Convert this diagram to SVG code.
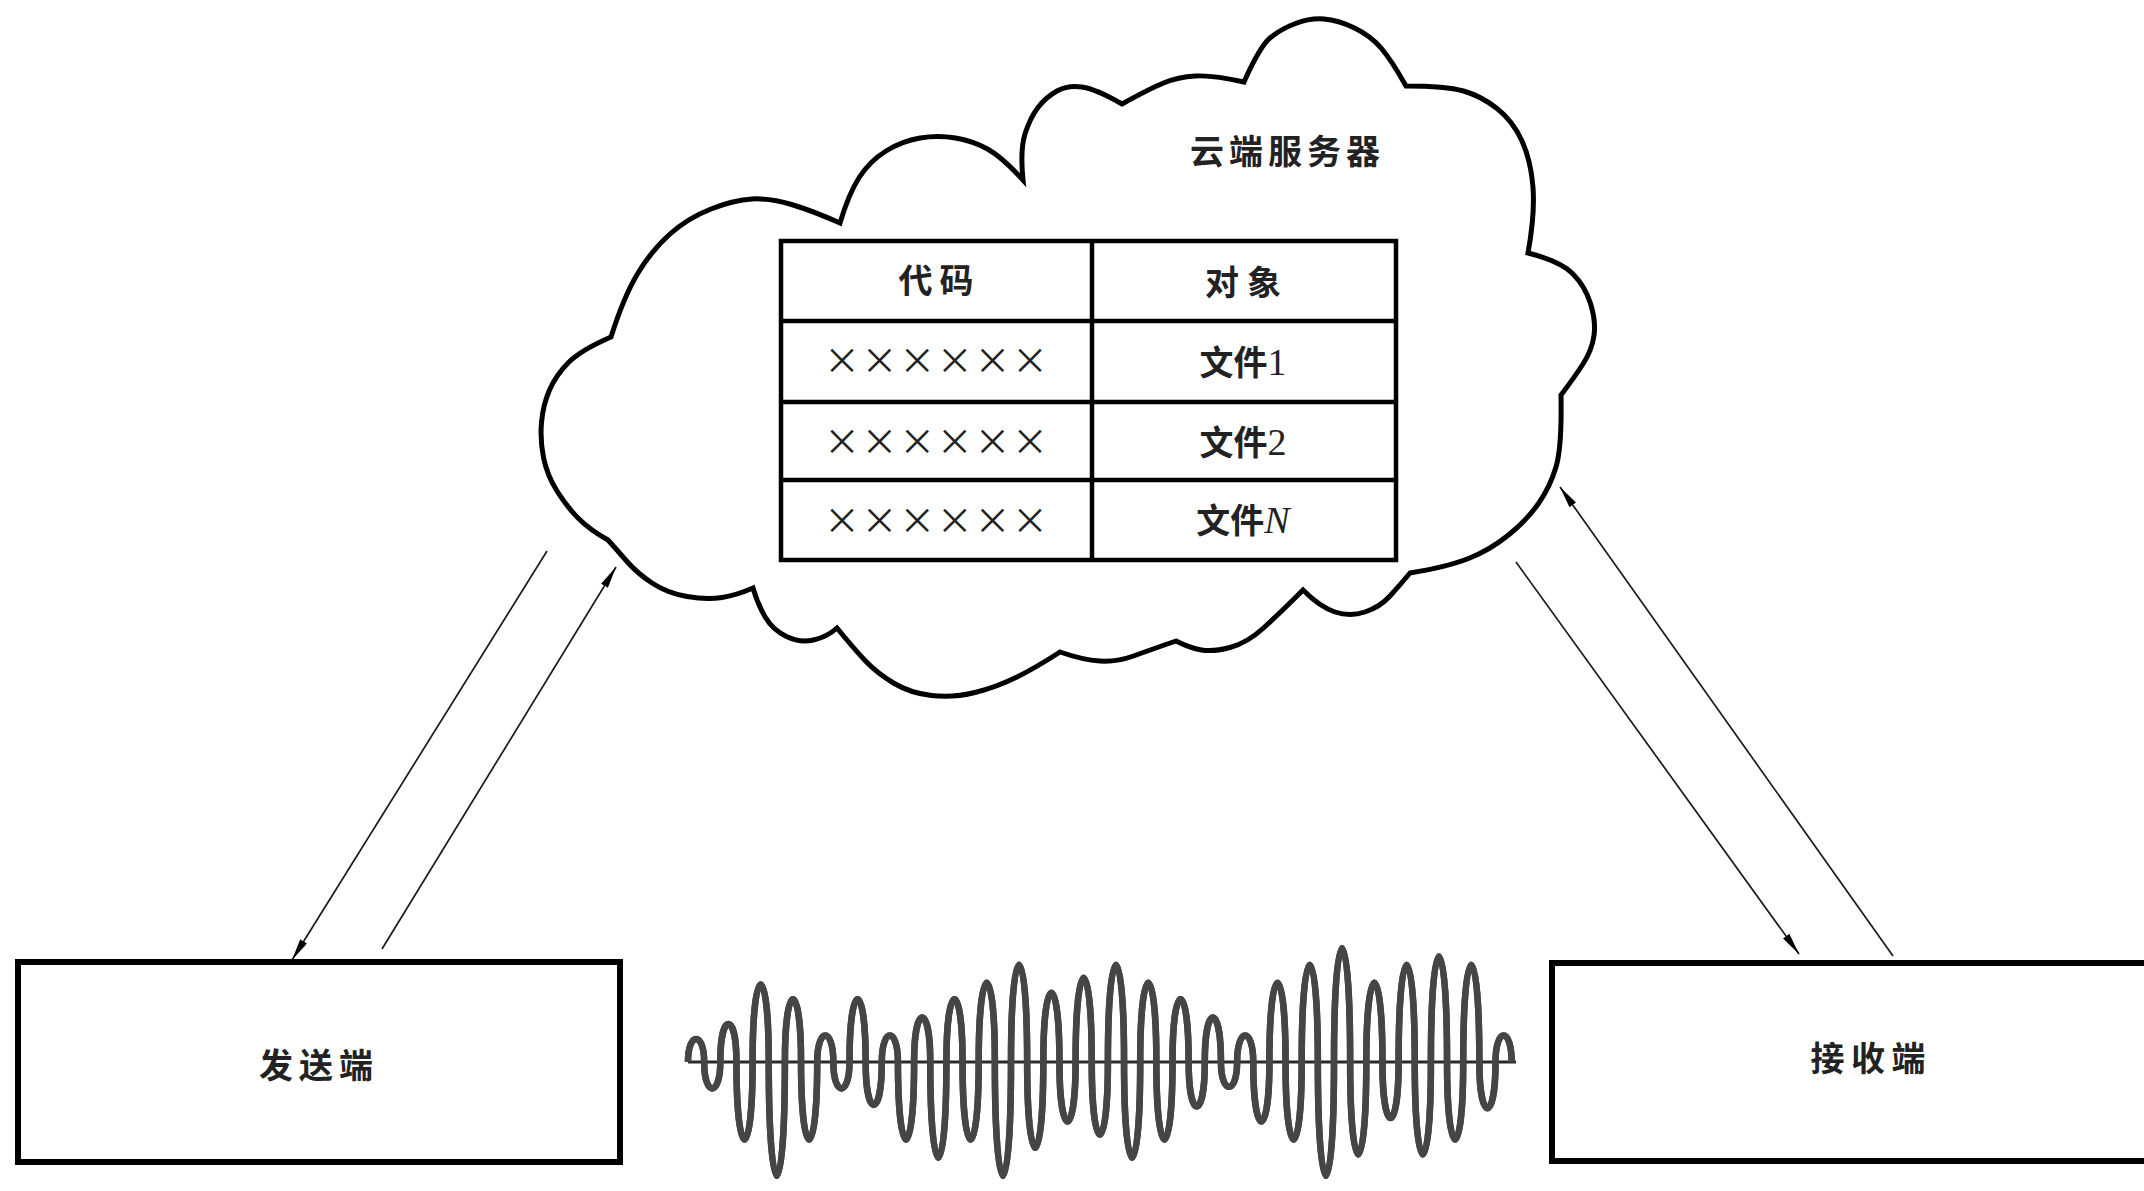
<svg xmlns="http://www.w3.org/2000/svg" width="2144" height="1191" viewBox="0 0 2144 1191">
<defs>
<style>
.cjk{font-family:"Noto Sans CJK SC","Noto Sans CJK TC",sans-serif;fill:#222;font-weight:600;}
.xx{font-family:"Noto Sans CJK SC","Noto Sans CJK TC",sans-serif;fill:#222;font-weight:400;}
.ser{font-family:"Liberation Serif",serif;font-weight:400;}
.box{fill:none;stroke:#000;stroke-width:6;}
.tbl{fill:none;stroke:#000;stroke-width:4.5;}
.conn{stroke:#1a1a1a;stroke-width:1.7;fill:none;marker-end:url(#arr);}
</style>
<marker id="arr" markerUnits="userSpaceOnUse" viewBox="0 0 22 8" markerWidth="22" markerHeight="8" refX="22" refY="4" orient="auto">
<path d="M0,0 L22,4 L0,8 Z" fill="#000"/>
</marker>
</defs>
<rect width="2144" height="1191" fill="#fff"/>

<g id="cloud-server">
<path fill="none" stroke="#000" stroke-width="5" stroke-linejoin="miter" d="M611,337 Q624,296 638,273 Q652,250 670,234 Q688,218 711,209 Q734,200 752,199 Q770,198 791.5,204.5 Q813,211 840,223 Q849,193 859.5,177 Q870,161 886,151 Q902,141 920,138 Q938,135 955.5,138 Q973,141 987.5,149 Q1002,157 1023,180 Q1020,150 1025,134 Q1030,118 1038,107.5 Q1046,97 1057,91 Q1068,85 1082,87 Q1096,89 1122,104 Q1149,89 1163.5,83 Q1178,77 1195.5,76 Q1213,75 1244,82 Q1260,46 1270.5,37.5 Q1281,29 1295.5,23.5 Q1310,18 1324,19 Q1338,20 1354.5,28 Q1371,36 1381.5,48.5 Q1392,61 1406,86 Q1446,86 1463.5,91 Q1481,96 1497,108.5 Q1513,121 1522,141 Q1531,161 1533,187.5 Q1535,214 1528,253 Q1560,261 1572.5,273.5 Q1585,286 1590.5,303.5 Q1596,321 1594,335.5 Q1592,350 1583,364 Q1574,378 1561,395 Q1562,447 1556,467 Q1550,487 1538.5,503.5 Q1527,520 1508.5,535 Q1490,550 1468.5,558.5 Q1447,567 1410,573 Q1400,585 1390,596 Q1380,607 1365,612 Q1350,617 1335,612 Q1320,607 1303,590 Q1280,613 1263.5,628 Q1247,643 1230,647.5 Q1213,652 1201.5,650 Q1190,648 1176,641 Q1150,650 1133.5,656 Q1117,662 1100,661 Q1083,660 1060,652 Q1037,667 1017,677 Q997,687 975,692.5 Q953,698 931.5,695.5 Q910,693 893.5,683 Q877,673 866,661.5 Q855,650 837,628 Q827,637 813.5,640 Q800,643 786.5,636.5 Q773,630 765.5,617.5 Q758,605 753,588 Q737,595 722,597.5 Q707,600 687,596.5 Q667,593 652,583 Q637,573 627,561.5 Q617,550 608,540 Q590,530 578.5,518.5 Q567,507 557,491 Q547,475 543.5,457.5 Q540,440 541.5,422.5 Q543,405 549.5,390 Q556,375 568.5,362.5 Q581,350 611,337 Z"/>
<text class="cjk" x="1285" y="164" font-size="34" text-anchor="middle" textLength="190" lengthAdjust="spacing">云端服务器</text>
<g id="table">
<rect class="tbl" x="781" y="241" width="615" height="319"/>
<line class="tbl" x1="1092" y1="241" x2="1092" y2="560"/>
<line class="tbl" x1="781" y1="321" x2="1396" y2="321"/>
<line class="tbl" x1="781" y1="402" x2="1396" y2="402"/>
<line class="tbl" x1="781" y1="480" x2="1396" y2="480"/>
<text class="cjk" x="936" y="293" font-size="34" text-anchor="middle" textLength="75" lengthAdjust="spacing">代码</text>
<text class="cjk" x="1243" y="295" font-size="34" text-anchor="middle" textLength="76" lengthAdjust="spacing">对象</text>
<text class="xx" x="936" y="374" font-size="36" text-anchor="middle" textLength="224" lengthAdjust="spacing">××××××</text>
<text class="xx" x="936" y="455" font-size="36" text-anchor="middle" textLength="224" lengthAdjust="spacing">××××××</text>
<text class="xx" x="936" y="534" font-size="36" text-anchor="middle" textLength="224" lengthAdjust="spacing">××××××</text>
<text class="cjk" x="1243" y="375" font-size="34" text-anchor="middle">文件<tspan class="ser" font-size="38">1</tspan></text>
<text class="cjk" x="1243" y="455" font-size="34" text-anchor="middle">文件<tspan class="ser" font-size="38">2</tspan></text>
<text class="cjk" x="1243" y="533" font-size="34" text-anchor="middle">文件<tspan class="ser" font-size="38" font-style="italic">N</tspan></text>
</g>
</g>

<g id="sender">
<rect class="box" x="18" y="962" width="602" height="200"/>
<text class="cjk" x="316" y="1078" font-size="34" text-anchor="middle" textLength="114" lengthAdjust="spacing">发送端</text>
</g>

<g id="receiver">
<rect class="box" x="1552" y="963" width="620" height="198"/>
<text class="cjk" x="1868" y="1071" font-size="34" text-anchor="middle" textLength="115" lengthAdjust="spacing">接收端</text>
</g>

<g id="waveform">
<line x1="688" y1="1062" x2="1516" y2="1062" stroke="#2a2a2a" stroke-width="3"/>
<path id="wv" fill="none" stroke="#454545" stroke-width="6.5" d="M688,1062 C688,1031.2 704.15,1031.2 704.15,1062 C704.15,1097.2 720.3,1097.2 720.3,1062 C720.3,1011.4 736.45,1011.4 736.45,1062 C736.45,1165.4 752.6,1165.4 752.6,1062 C752.6,958.6 768.75,958.6 768.75,1062 C768.75,1213.8 784.9,1213.8 784.9,1062 C784.9,978.4 801.05,978.4 801.05,1062 C801.05,1165.4 817.2,1165.4 817.2,1062 C817.2,1026.8 833.35,1026.8 833.35,1062 C833.35,1097.2 849.5,1097.2 849.5,1062 C849.5,978.4 865.65,978.4 865.65,1062 C865.65,1119.2 881.8,1119.2 881.8,1062 C881.8,1026.8 897.95,1026.8 897.95,1062 C897.95,1165.4 914.1,1165.4 914.1,1062 C914.1,1002.6 930.25,1002.6 930.25,1062 C930.25,1189.6 946.4,1189.6 946.4,1062 C946.4,978.4 962.55,978.4 962.55,1062 C962.55,1165.4 978.7,1165.4 978.7,1062 C978.7,956.4 994.85,956.4 994.85,1062 C994.85,1213.8 1011,1213.8 1011,1062 C1011,932.2 1027.15,932.2 1027.15,1062 C1027.15,1176.4 1043.3,1176.4 1043.3,1062 C1043.3,969.6 1059.45,969.6 1059.45,1062 C1059.45,1141.2 1075.6,1141.2 1075.6,1062 C1075.6,949.8 1091.75,949.8 1091.75,1062 C1091.75,1158.8 1107.9,1158.8 1107.9,1062 C1107.9,932.2 1124.05,932.2 1124.05,1062 C1124.05,1189.6 1140.2,1189.6 1140.2,1062 C1140.2,956.4 1156.35,956.4 1156.35,1062 C1156.35,1165.4 1172.5,1165.4 1172.5,1062 C1172.5,978.4 1188.65,978.4 1188.65,1062 C1188.65,1121.4 1204.8,1121.4 1204.8,1062 C1204.8,1002.6 1220.95,1002.6 1220.95,1062 C1220.95,1095 1237.1,1095 1237.1,1062 C1237.1,1026.8 1253.25,1026.8 1253.25,1062 C1253.25,1141.2 1269.4,1141.2 1269.4,1062 C1269.4,956.4 1285.55,956.4 1285.55,1062 C1285.55,1165.4 1301.7,1165.4 1301.7,1062 C1301.7,932.2 1317.85,932.2 1317.85,1062 C1317.85,1213.8 1334,1213.8 1334,1062 C1334,910.2 1350.15,910.2 1350.15,1062 C1350.15,1185.2 1366.3,1185.2 1366.3,1062 C1366.3,956.4 1382.45,956.4 1382.45,1062 C1382.45,1136.8 1398.6,1136.8 1398.6,1062 C1398.6,932.2 1414.75,932.2 1414.75,1062 C1414.75,1185.2 1430.9,1185.2 1430.9,1062 C1430.9,921.2 1447.05,921.2 1447.05,1062 C1447.05,1165.4 1463.2,1165.4 1463.2,1062 C1463.2,932.2 1479.35,932.2 1479.35,1062 C1479.35,1123.6 1495.5,1123.6 1495.5,1062 C1495.5,1026.8 1511.65,1026.8 1511.65,1062"/>
<use href="#wv" stroke="#a8a8a8" stroke-width="2.4"/>
</g>

<g id="connectors">
<line class="conn" x1="547" y1="551" x2="292" y2="960"/>
<line class="conn" x1="382" y1="949" x2="616" y2="567"/>
<line class="conn" x1="1516" y1="562" x2="1799" y2="954"/>
<line class="conn" x1="1893" y1="956" x2="1560" y2="487"/>
</g>
</svg>
